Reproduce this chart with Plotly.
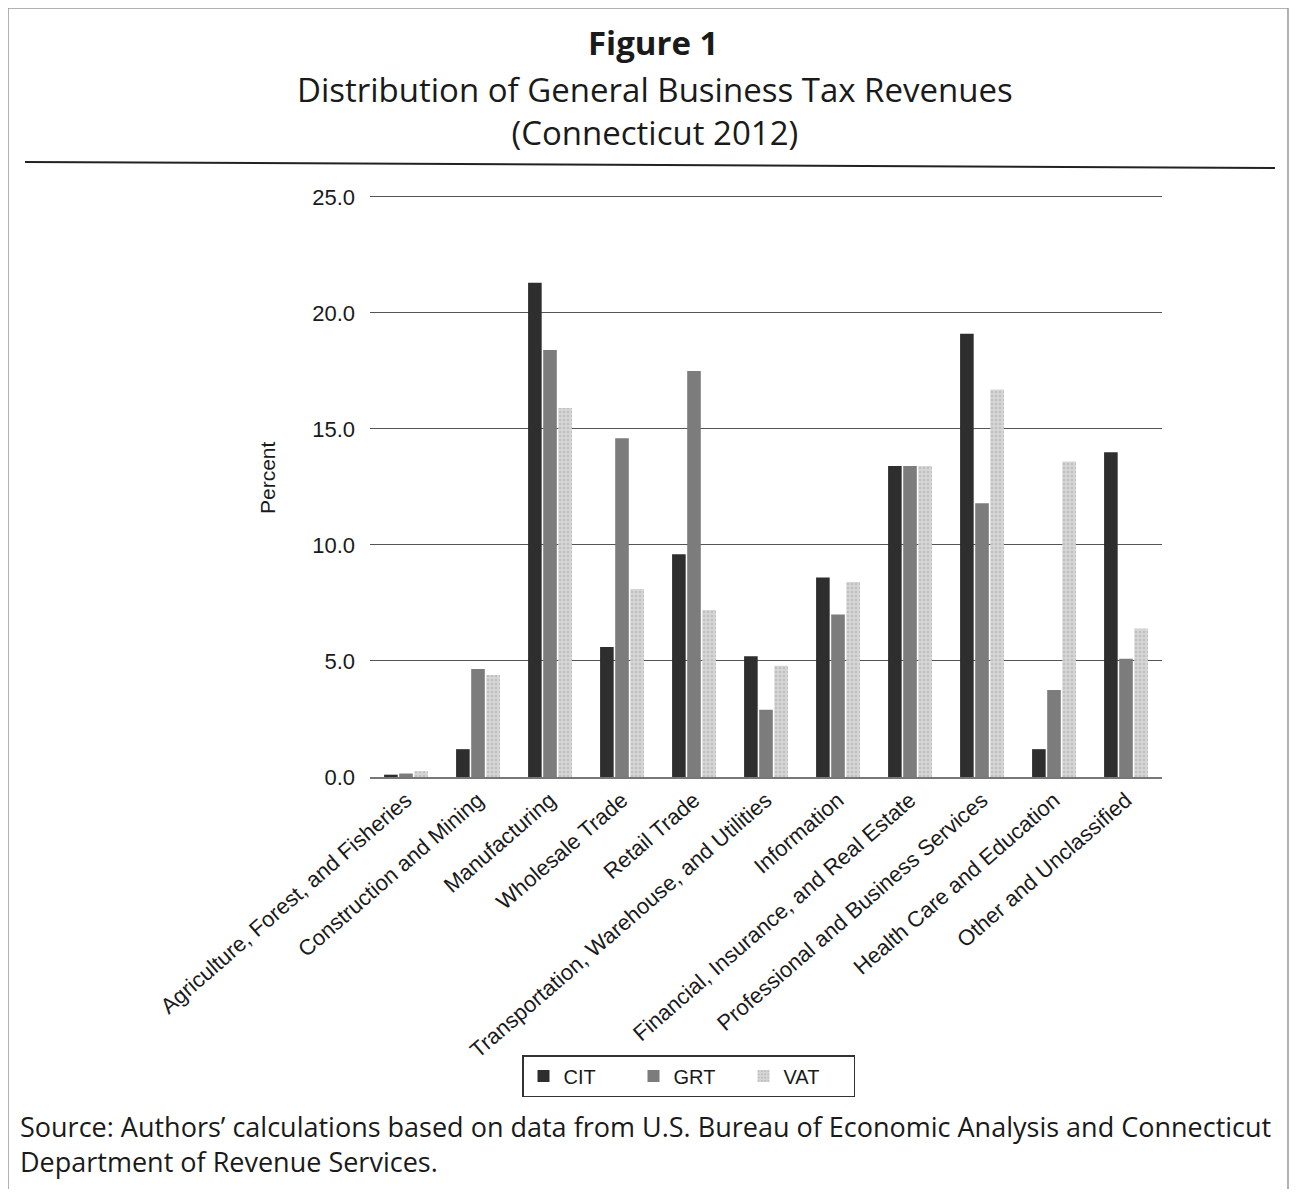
import plotly.graph_objects as go

categories = [
    "Agriculture, Forest, and Fisheries",
    "Construction and Mining",
    "Manufacturing",
    "Wholesale Trade",
    "Retail Trade",
    "Transportation, Warehouse, and Utilities",
    "Information",
    "Financial, Insurance, and Real Estate",
    "Professional and Business Services",
    "Health Care and Education",
    "Other and Unclassified",
]
cit = [0.1, 1.2, 21.3, 5.6, 9.6, 5.2, 8.6, 13.4, 19.1, 1.2, 14.0]
grt = [0.15, 4.65, 18.4, 14.6, 17.5, 2.9, 7.0, 13.4, 11.8, 3.75, 5.1]
vat = [0.25, 4.4, 15.9, 8.1, 7.2, 4.8, 8.4, 13.4, 16.7, 13.6, 6.4]
y_ticks = [0, 5, 10, 15, 20, 25]

OFF = 8  # page body margin
W, H = 1298 - 2 * OFF, 1197 - 2 * OFF
# plot area in reference-image pixels
L, R, T, B = 370, 1162, 190, 777


def px_x(p):
    return (p - L) / (R - L)


def px_y(p):
    return (B - p) / (B - T)


fig = go.Figure()
fig.add_trace(go.Bar(name="CIT", x=categories, y=cit, marker=dict(color="#2e2e2e", line=dict(width=0))))
fig.add_trace(go.Bar(name="GRT", x=categories, y=grt, marker=dict(color="#7c7c7c", line=dict(width=0))))
fig.add_trace(go.Bar(name="VAT", x=categories, y=vat,
                     marker=dict(color="#cfcfcf", line=dict(width=0),
                                 pattern=dict(shape=".", fgcolor="#a8a8a8", bgcolor="#d6d6d6", size=4, solidity=0.35))))

fig.update_layout(
    width=W, height=H,
    margin=dict(l=L - OFF, r=(W + OFF) - R, t=T - OFF, b=(H + OFF) - B, autoexpand=False),
    paper_bgcolor="white", plot_bgcolor="white",
    barmode="group", bargap=0.37, bargroupgap=0.1,
    font=dict(family="Liberation Sans, Arial, sans-serif", color="#1a1a1a"),
    showlegend=True,
    legend=dict(orientation="h", x=px_x(522), y=px_y(1055), xanchor="left", yanchor="top",
                bordercolor="#333333", borderwidth=1.5, bgcolor="white",
                font=dict(size=20, family="Liberation Sans, Arial, sans-serif"),
                entrywidth=65, entrywidthmode="pixels", tracegroupgap=0),
    xaxis=dict(tickangle=-41, tickfont=dict(size=22), showline=True, linecolor="#777777", linewidth=1.5,
               ticks="", showgrid=False, automargin=False),
    yaxis=dict(range=[0, 25.3], tickvals=y_ticks, tickformat=".1f", tickfont=dict(size=22),
               showgrid=True, gridcolor="#555555", gridwidth=1.2, zeroline=False,
               showline=False, ticks="", ticklabelstandoff=14, automargin=False),
)

annotations = [
    dict(text="<b>Figure 1</b>", x=px_x(653), y=px_y(42), font=dict(size=33, family="Open Sans, Noto Sans, sans-serif")),
    dict(text="Distribution of General Business Tax Revenues<br>(Connecticut 2012)", x=px_x(655), y=px_y(111),
         font=dict(size=33, family="Open Sans, Noto Sans, sans-serif")),
    dict(text="Percent", x=px_x(267), y=px_y(478), textangle=-90, font=dict(size=21)),
]
for a in annotations:
    a.update(xref="paper", yref="paper", showarrow=False, xanchor="center", yanchor="middle")
    fig.add_annotation(**a)

fig.add_annotation(
    text="Source: Authors\u2019 calculations based on data from U.S. Bureau of Economic Analysis and Connecticut"
         "<br>Department of Revenue Services.",
    xref="paper", yref="paper", x=px_x(18), y=px_y(1144), xanchor="left", yanchor="middle", align="left",
    showarrow=False, font=dict(size=27, family="Open Sans, Noto Sans, sans-serif", color="#1a1a1a"))

fig.add_shape(type="line", xref="paper", yref="paper", x0=px_x(25), x1=px_x(1275), y0=px_y(162), y1=px_y(168),
              line=dict(color="#222222", width=2))
fig.add_shape(type="rect", xref="paper", yref="paper", x0=px_x(8), x1=px_x(1288), y0=px_y(8), y1=px_y(1190),
              line=dict(color="#999999", width=1.5))

fig.write_html("out.html")
